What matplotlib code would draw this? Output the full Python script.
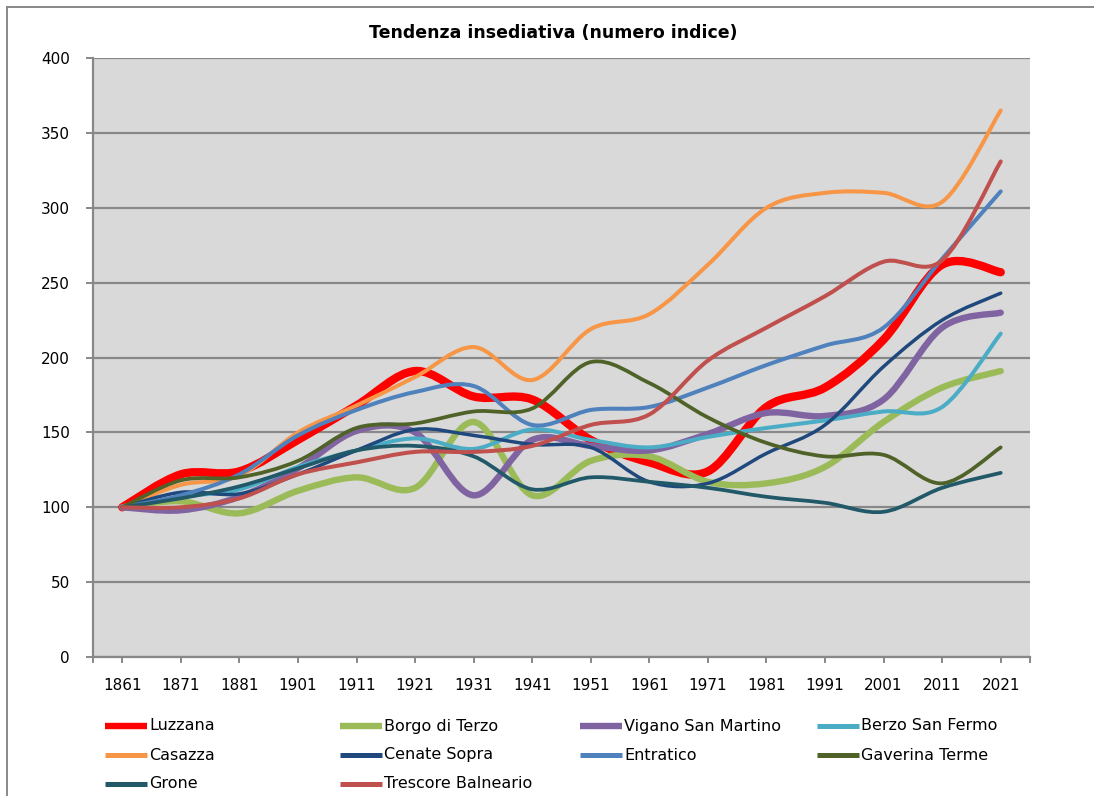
import matplotlib
matplotlib.use("Agg")
import matplotlib.pyplot as plt
import numpy as np
from matplotlib.lines import Line2D
from matplotlib.patches import PathPatch
from matplotlib.path import Path

years = ["1861", "1871", "1881", "1901", "1911", "1921", "1931", "1941",
         "1951", "1961", "1971", "1981", "1991", "2001", "2011", "2021"]

luzzana = [100, 122, 124, 145, 168, 191, 174, 172, 145, 130, 124, 167, 180, 212, 262, 257]
borgo = [100, 104, 96, 111, 120, 113, 157, 108, 131, 134, 117, 116, 127, 157, 180, 191]
vigano = [100, 98, 107, 126, 151, 150, 108, 145, 141, 138, 149, 163, 161, 172, 220, 230]
berzo = [100, 107, 112, 127, 138, 146, 139, 152, 145, 140, 147, 153, 158, 164, 167, 216]
casazza = [100, 115, 121, 150, 168, 187, 207, 185, 219, 229, 262, 300, 310, 310, 304, 365]
cenate = [100, 110, 109, 122, 138, 152, 148, 142, 140, 117, 116, 136, 155, 194, 225, 243]
entratico = [100, 108, 122, 148, 165, 177, 181, 155, 165, 167, 180, 195, 208, 220, 266, 311]
gaverina = [100, 118, 120, 131, 153, 156, 164, 166, 197, 183, 160, 143, 134, 135, 116, 140]
grone = [100, 106, 114, 126, 138, 141, 134, 112, 120, 117, 113, 107, 103, 97, 113, 123]
trescore = [100, 100, 106, 122, 130, 137, 137, 141, 155, 162, 198, 220, 241, 264, 265, 331]

series = [
    ("Luzzana", luzzana, "#FF0000", 6.0),
    ("Borgo di Terzo", borgo, "#9BBB59", 4.6),
    ("Vigano San Martino", vigano, "#8064A2", 4.6),
    ("Berzo San Fermo", berzo, "#4BACC6", 2.9),
    ("Casazza", casazza, "#F79646", 2.9),
    ("Cenate Sopra", cenate, "#1F497D", 2.5),
    ("Entratico", entratico, "#4F81BD", 2.9),
    ("Gaverina Terme", gaverina, "#4F6228", 2.7),
    ("Grone", grone, "#215968", 2.7),
    ("Trescore Balneario", trescore, "#C0504D", 2.9),
]

GRID = "#888888"


def smooth_path(xs, ys):
    # Excel-like smoothed line: cubic Bezier through the points
    pts = np.column_stack([xs, ys]).astype(float)
    ext = np.vstack([pts[0], pts, pts[-1]])
    verts = [pts[0]]
    codes = [Path.MOVETO]
    for i in range(len(pts) - 1):
        p0, p1, p2, p3 = ext[i], ext[i + 1], ext[i + 2], ext[i + 3]
        c1 = p1 + (p2 - p0) / 6.0
        c2 = p2 - (p3 - p1) / 6.0
        verts += [c1, c2, p2]
        codes += [Path.CURVE4] * 3
    return Path(verts, codes)


fig = plt.figure(figsize=(10.94, 7.96), dpi=100)
ax = fig.add_axes([0.085, 0.1746, 0.8565, 0.7524])
ax.set_facecolor("#D9D9D9")

x = np.arange(len(years))
for i, (name, vals, color, lw) in enumerate(series):
    patch = PathPatch(smooth_path(x, vals), fill=False, edgecolor=color,
                      lw=lw, capstyle="round", joinstyle="round", zorder=3 + i)
    ax.add_patch(patch)

ax.set_xlim(-0.5, len(years) - 0.5)
ax.set_ylim(0, 400)
ax.set_yticks(np.arange(0, 401, 50))
ax.set_xticks(x)
ax.set_xticklabels(years)
ax.set_xticks([-0.5, len(years) - 0.5], minor=True)
ax.yaxis.grid(True, color=GRID, lw=1.6)
ax.set_axisbelow(True)

for s in ("top", "right"):
    ax.spines[s].set_visible(False)
for s in ("left", "bottom"):
    ax.spines[s].set_color(GRID)
    ax.spines[s].set_linewidth(1.6)

ax.tick_params(axis="y", direction="out", length=5, width=1.4, color=GRID,
               pad=11.5, labelsize=11)
ax.tick_params(axis="x", which="both", direction="out", length=4, width=1.4,
               color=GRID, pad=11, labelsize=11)
for lab in ax.get_xticklabels() + ax.get_yticklabels():
    lab.set_fontfamily("DejaVu Sans")

fig.text(0.5055, 0.958, "Tendenza insediativa (numero indice)", ha="center",
         va="center", fontsize=12.5, fontweight="bold", family="DejaVu Sans")

# legend, drawn like Excel's equal-width columns
col_x = [105, 340, 580, 817]
row_y = [726, 755, 784]
W, H = 1094, 796
for i, (name, vals, color, lw) in enumerate(series):
    cx = col_x[i % 4]
    cy = row_y[i // 4]
    fig.add_artist(Line2D([cx / W, (cx + 42) / W], [1 - cy / H, 1 - cy / H],
                          color=color, lw=min(lw, 4.6) if lw > 3 else 3.6,
                          solid_capstyle="butt"))
    fig.text((cx + 44) / W, 1 - cy / H, name, ha="left", va="center",
             fontsize=11.5, family="DejaVu Sans")

# chart-area frame (left and top edges visible)
fig.add_artist(Line2D([7 / W, 7 / W], [0, 1 - 7 / H], color=GRID, lw=1.4))
fig.add_artist(Line2D([7 / W, 1], [1 - 7 / H, 1 - 7 / H], color=GRID, lw=1.4))

fig.savefig("out.png", dpi=100)
